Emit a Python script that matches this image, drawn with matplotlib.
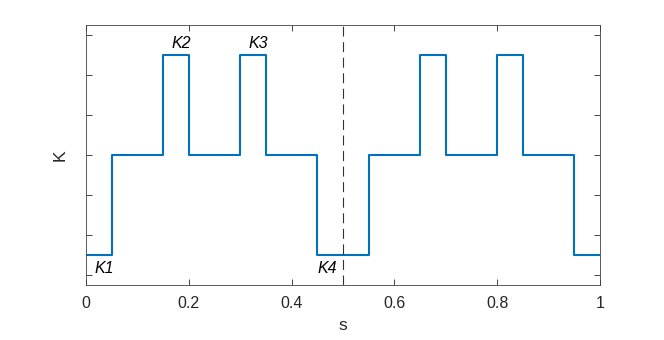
import numpy as np
import matplotlib
matplotlib.use("Agg")
import matplotlib.pyplot as plt

plt.rcParams['font.family'] = ['Liberation Sans', 'DejaVu Sans']

# step edges along s and K level on each step
s_edges = [0, 0.05, 0.15, 0.2, 0.3, 0.35, 0.45, 0.55, 0.65, 0.7, 0.8, 0.85, 0.95, 1.0]
k_levels = [0.5, 3, 5.5, 3, 5.5, 3, 0.5, 3, 5.5, 3, 5.5, 3, 0.5]

labels = ['K1', 'K2', 'K3', 'K4']
label_s = [0.035, 0.185, 0.335, 0.47]
label_k = [0.17, 5.78, 5.78, 0.17]

fig = plt.figure(figsize=(6.64, 3.4), dpi=100)
ax = fig.add_axes([0.1295, 0.1618, 0.774, 0.765])

k_plot = k_levels + [k_levels[-1]]
ax.step(s_edges, k_plot, where='post', color='#0072BD', lw=1.5)
ax.axvline(0.5, color='#333333', lw=0.8, ls=(0, (9, 5)))

for t, xs, ks in zip(labels, label_s, label_k):
    ax.text(xs, ks, t, ha='center', va='center', fontsize=11.5, style='italic')

ax.set_xlim(0, 1)
ax.set_ylim(-0.25, 6.25)
ax.set_xticks([0, 0.2, 0.4, 0.6, 0.8, 1])
ax.set_xticklabels(['0', '0.2', '0.4', '0.6', '0.8', '1'])
ax.set_yticks(np.arange(0, 7))
ax.set_yticklabels([])
ax.tick_params(direction='in', top=True, right=True, length=4, width=0.6,
               color='#262626', labelsize=11.5, labelcolor='#262626')
ax.tick_params(axis='x', pad=8)
for sp in ax.spines.values():
    sp.set_color('#404040')
    sp.set_linewidth(0.6)
ax.set_xlabel('s', fontsize=12.5, color='#262626', labelpad=5)
ax.set_ylabel('K', fontsize=12.5, color='#262626', labelpad=10)

fig.savefig('out.png', dpi=100)
